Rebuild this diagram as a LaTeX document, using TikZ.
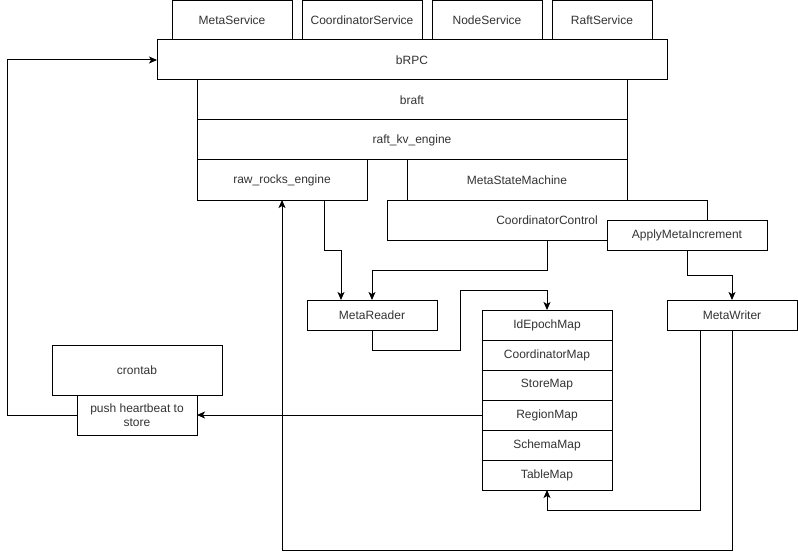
\documentclass[tikz,border=0pt]{standalone}
\usepackage{fontspec}
\setmainfont{Liberation Sans}
\usepackage{tikz}
\usetikzlibrary{arrows.meta, positioning, calc}
\definecolor{blktext}{HTML}{333333}
\definecolor{blkline}{HTML}{000000}
\tikzset{
  blk/.style     = {draw=blkline, fill=white, line width=1pt, text=blktext,
                    font=\fontsize{12}{14}\selectfont, align=center,
                    inner sep=0pt, outer sep=0pt, minimum height=40pt},
  svcbox/.style  = {blk, minimum height=39pt},
  mapcell/.style = {blk, minimum width=130pt, minimum height=30pt},
  link/.style    = {-{Stealth[length=8pt, width=7pt, inset=2pt]}, line width=1pt, draw=blkline},
}

\begin{document}
\begin{tikzpicture}[x=1pt, y=-1pt, node distance=10pt and 10pt]
        \useasboundingbox[fill=white] (0,0) rectangle (798,559);
        % service stack
        \node[svcbox, minimum width=120pt, anchor=north west] (meta) at (172,1) {MetaService};
        \node[svcbox, minimum width=120pt, right=of meta]     (coord) {CoordinatorService};
        \node[svcbox, minimum width=110pt, right=of coord]    (nodesvc) {NodeService};
        \node[svcbox, minimum width=100pt, right=of nodesvc]  (raftsvc) {RaftService};
        \node[blk, minimum width=510pt, anchor=north west] (brpc) at (157,40) {bRPC};
        \node[blk, minimum width=430pt, anchor=north west] (braft) at (197,80) {braft};
        \node[blk, minimum width=430pt, below=0pt of braft] (kv) {raft\_kv\_engine};
        \node[blk, minimum width=170pt, anchor=north west] (rocks) at (kv.south west) {raw\_rocks\_engine};
        \node[blk, minimum width=220pt, anchor=north east] (msm) at (kv.south east) {MetaStateMachine};
        \node[blk, minimum width=320pt, anchor=north west] (ctrl) at (387,200) {CoordinatorControl};
        \node[blk, minimum width=160pt, minimum height=30pt, anchor=north west] (apply) at (607,220) {ApplyMetaIncrement};
        % reader / writer
        \node[blk, minimum width=130pt, minimum height=30pt, anchor=north west] (reader) at (307,300) {MetaReader};
        \node[blk, minimum width=130pt, minimum height=30pt, anchor=north west] (writer) at (667,300) {MetaWriter};
        % maps
        \node[mapcell, anchor=north west] (idepoch) at (482,310) {IdEpochMap};
        \node[mapcell, below=0pt of idepoch] (coordmap) {CoordinatorMap};
        \node[mapcell, below=0pt of coordmap] (storemap) {StoreMap};
        \node[mapcell, below=0pt of storemap] (regionmap) {RegionMap};
        \node[mapcell, below=0pt of regionmap] (schemamap) {SchemaMap};
        \node[mapcell, below=0pt of schemamap] (tablemap) {TableMap};
        % heartbeat
        \node[blk, minimum width=170pt, minimum height=50pt, anchor=north west] (cron) at (52,345) {crontab};
        \node[blk, minimum width=120pt, below=0pt of cron] (push) {push heartbeat to\\store};
        % links
        \draw[link] (push.west) -- ++(-70,0) |- (brpc.west);
        \draw[link] (regionmap.west) -- (push.east);
        \draw[link] ([xshift=42pt]rocks.south) -- ++(0,50) -| ([xshift=-31pt]reader.north);
        \draw[link] (ctrl.south) -- ++(0,30) -| (reader.north);
        \draw[link] (apply.south) -- ++(0,25) -| (writer.north);
        \draw[link] (reader.south) -- ++(0,20) -| ++(88,-60) -| (idepoch.north);
        \draw[link] ([xshift=-32pt]writer.south) -- ++(0,180) -| (tablemap.south);
        \draw[link] (writer.south) -- ++(0,220) -| (rocks.south);
    \end{tikzpicture}
\end{document}
